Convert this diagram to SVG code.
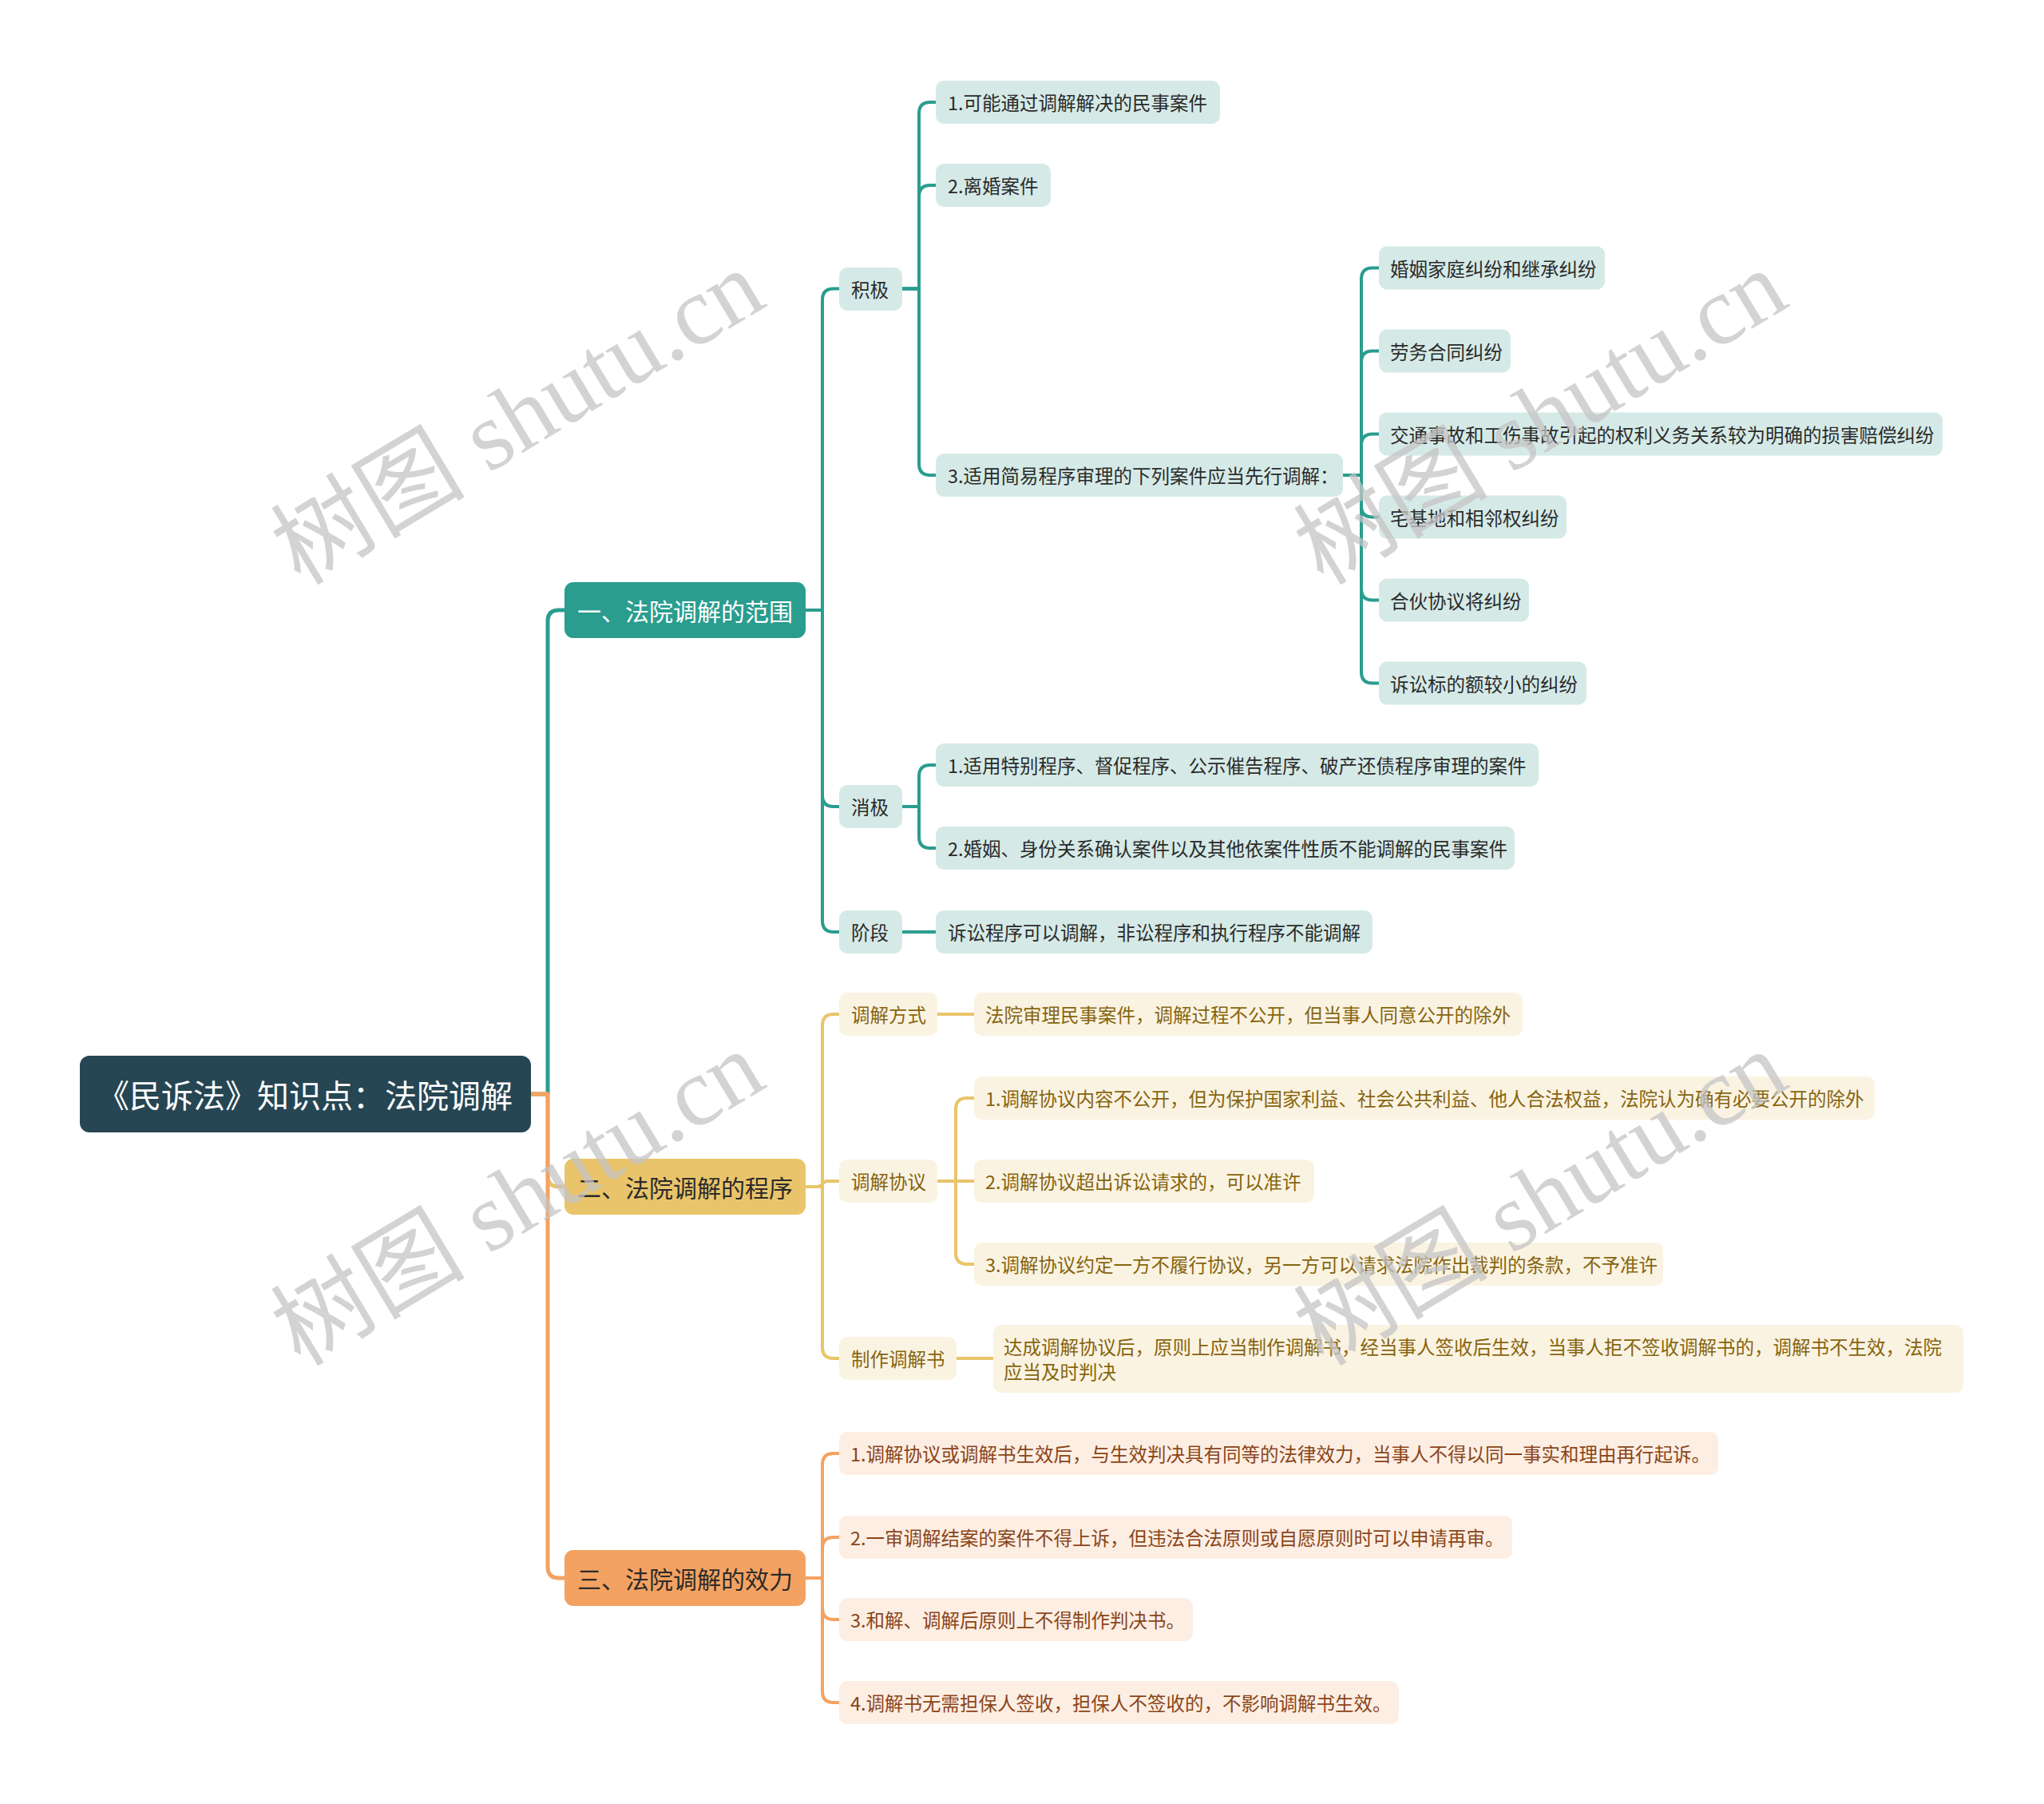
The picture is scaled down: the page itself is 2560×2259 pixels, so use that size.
<svg xmlns="http://www.w3.org/2000/svg" width="2560" height="2259" viewBox="0 0 2560 2259">
<style>
text{font-family:"Noto Sans CJK SC","Noto Sans",sans-serif;dominant-baseline:central}
.c{fill:none;stroke-width:4;stroke-linecap:round;stroke-linejoin:round}
.ct{stroke:#2a9d8f}.cy{stroke:#e9c46a}.co{stroke:#f4a261}
.main{stroke-width:5}
.tb{fill:#d5eae7}.tt{fill:#2b2b2b;font-size:23.5px}
.yb{fill:#fbf3e2}.yt{fill:#86650f;font-size:23.5px}
.ob{fill:#fdeee3}.ot{fill:#8a4519;font-size:23.5px}
.wm{font-family:"Liberation Serif","Noto Sans CJK SC",serif;font-size:122px;fill:#c4c4c4;fill-opacity:0.75;text-anchor:middle;dominant-baseline:auto}
</style>
<rect width="2560" height="2259" fill="#ffffff"/>
<g id="connectors">
<path class="c ct main" d="M665 1370 H686 V778 Q686 764 700 764 H707"/>
<path class="c cy main" d="M665 1370 H686 V1472 Q686 1486 700 1486 H707"/>
<path class="c co main" d="M665 1370 H686 V1962 Q686 1976 700 1976 H707"/>
<path class="c ct" d="M1009 764 H1030 V375.5 Q1030 361.5 1044 361.5 H1051"/>
<path class="c ct" d="M1009 764 H1030 V996 Q1030 1010 1044 1010 H1051"/>
<path class="c ct" d="M1009 764 H1030 V1153 Q1030 1167 1044 1167 H1051"/>
<path class="c ct" d="M1130 361.5 H1151 V142 Q1151 128 1165 128 H1172"/>
<path class="c ct" d="M1130 361.5 H1151 V246 Q1151 232 1165 232 H1172"/>
<path class="c ct" d="M1130 361.5 H1151 V581 Q1151 595 1165 595 H1172"/>
<path class="c ct" d="M1682 595 H1705 V349.5 Q1705 335.5 1719 335.5 H1727"/>
<path class="c ct" d="M1682 595 H1705 V453.5 Q1705 439.5 1719 439.5 H1727"/>
<path class="c ct" d="M1682 595 H1705 V557.5 Q1705 543.5 1719 543.5 H1727"/>
<path class="c ct" d="M1682 595 H1705 V633.5 Q1705 647.5 1719 647.5 H1727"/>
<path class="c ct" d="M1682 595 H1705 V737.5 Q1705 751.5 1719 751.5 H1727"/>
<path class="c ct" d="M1682 595 H1705 V841.5 Q1705 855.5 1719 855.5 H1727"/>
<path class="c ct" d="M1130 1010 H1151 V972 Q1151 958 1165 958 H1172"/>
<path class="c ct" d="M1130 1010 H1151 V1048 Q1151 1062 1165 1062 H1172"/>
<path class="c ct" d="M1130 1167 H1172"/>
<path class="c cy" d="M1009 1486 H1030 V1284 Q1030 1270 1044 1270 H1051"/>
<path class="c cy" d="M1009 1486 H1024 C1030 1486 1030 1479 1036 1479 H1051"/>
<path class="c cy" d="M1009 1486 H1030 V1687 Q1030 1701 1044 1701 H1051"/>
<path class="c cy" d="M1174 1270 H1220"/>
<path class="c cy" d="M1174 1479 H1197 V1389 Q1197 1375 1211 1375 H1220"/>
<path class="c cy" d="M1174 1479 H1220"/>
<path class="c cy" d="M1174 1479 H1197 V1569 Q1197 1583 1211 1583 H1220"/>
<path class="c cy" d="M1198 1701 H1244"/>
<path class="c co" d="M1009 1976 H1030 V1834 Q1030 1820 1044 1820 H1051"/>
<path class="c co" d="M1009 1976 H1030 V1939 Q1030 1925 1044 1925 H1051"/>
<path class="c co" d="M1009 1976 H1030 V2014 Q1030 2028 1044 2028 H1051"/>
<path class="c co" d="M1009 1976 H1030 V2118 Q1030 2132 1044 2132 H1051"/>
</g>
<g id="root"><rect x="100" y="1322" width="565" height="96" rx="12" fill="#264653"/><text x="382" y="1370" font-size="40" fill="#ffffff" text-anchor="middle">《民诉法》知识点：法院调解</text></g>
<g id="b1"><rect x="707" y="729" width="302" height="70" rx="11" fill="#2a9d8f"/><text x="858" y="764" font-size="30" fill="#ffffff" text-anchor="middle">一、法院调解的范围</text></g>
<g id="b2"><rect x="707" y="1451" width="302" height="70" rx="11" fill="#e9c46a"/><text x="858" y="1486" font-size="30" fill="#2b2b2b" text-anchor="middle">二、法院调解的程序</text></g>
<g id="b3"><rect x="707" y="1941" width="302" height="70" rx="11" fill="#f4a261"/><text x="858" y="1976" font-size="30" fill="#2b2b2b" text-anchor="middle">三、法院调解的效力</text></g>

<g id="n-jiji"><rect class="tb" x="1051" y="335" width="79" height="54" rx="10"/><text class="tt" x="1066" y="362">积极</text></g>
<g id="n-xiaoji"><rect class="tb" x="1051" y="983" width="79" height="54" rx="10"/><text class="tt" x="1066" y="1010">消极</text></g>
<g id="n-jieduan"><rect class="tb" x="1051" y="1140" width="79" height="54" rx="10"/><text class="tt" x="1066" y="1167">阶段</text></g>

<g id="n-a1"><rect class="tb" x="1172" y="101" width="356" height="54" rx="10"/><text class="tt" x="1187" y="128">1.可能通过调解解决的民事案件</text></g>
<g id="n-a2"><rect class="tb" x="1172" y="205" width="144" height="54" rx="10"/><text class="tt" x="1187" y="232">2.离婚案件</text></g>
<g id="n-a3"><rect class="tb" x="1172" y="568" width="510" height="54" rx="10"/><text class="tt" x="1187" y="595">3.适用简易程序审理的下列案件应当先行调解：</text></g>

<g id="n-c1"><rect class="tb" x="1727" y="308.5" width="283" height="54" rx="10"/><text class="tt" x="1741" y="335.5">婚姻家庭纠纷和继承纠纷</text></g>
<g id="n-c2"><rect class="tb" x="1727" y="412.5" width="165" height="54" rx="10"/><text class="tt" x="1741" y="439.5">劳务合同纠纷</text></g>
<g id="n-c3"><rect class="tb" x="1727" y="516.5" width="706" height="54" rx="10"/><text class="tt" x="1741" y="543.5">交通事故和工伤事故引起的权利义务关系较为明确的损害赔偿纠纷</text></g>
<g id="n-c4"><rect class="tb" x="1727" y="620.5" width="235" height="54" rx="10"/><text class="tt" x="1741" y="647.5">宅基地和相邻权纠纷</text></g>
<g id="n-c5"><rect class="tb" x="1727" y="724.5" width="188" height="54" rx="10"/><text class="tt" x="1741" y="751.5">合伙协议将纠纷</text></g>
<g id="n-c6"><rect class="tb" x="1727" y="828.5" width="260" height="54" rx="10"/><text class="tt" x="1741" y="855.5">诉讼标的额较小的纠纷</text></g>

<g id="n-x1"><rect class="tb" x="1172" y="931" width="755" height="54" rx="10"/><text class="tt" x="1187" y="958">1.适用特别程序、督促程序、公示催告程序、破产还债程序审理的案件</text></g>
<g id="n-x2"><rect class="tb" x="1172" y="1035" width="725" height="54" rx="10"/><text class="tt" x="1187" y="1062">2.婚姻、身份关系确认案件以及其他依案件性质不能调解的民事案件</text></g>
<g id="n-j1"><rect class="tb" x="1172" y="1140" width="547" height="54" rx="10"/><text class="tt" x="1187" y="1167">诉讼程序可以调解，非讼程序和执行程序不能调解</text></g>

<g id="n-fs"><rect class="yb" x="1051" y="1243" width="123" height="54" rx="10"/><text class="yt" x="1066" y="1270">调解方式</text></g>
<g id="n-xy"><rect class="yb" x="1051" y="1452" width="123" height="54" rx="10"/><text class="yt" x="1066" y="1479">调解协议</text></g>
<g id="n-zz"><rect class="yb" x="1051" y="1674" width="147" height="54" rx="10"/><text class="yt" x="1066" y="1701">制作调解书</text></g>
<g id="n-fs1"><rect class="yb" x="1220" y="1243" width="687" height="54" rx="10"/><text class="yt" x="1234" y="1270">法院审理民事案件，调解过程不公开，但当事人同意公开的除外</text></g>
<g id="n-xy1"><rect class="yb" x="1220" y="1348" width="1128" height="54" rx="10"/><text class="yt" x="1234" y="1375">1.调解协议内容不公开，但为保护国家利益、社会公共利益、他人合法权益，法院认为确有必要公开的除外</text></g>
<g id="n-xy2"><rect class="yb" x="1220" y="1452" width="426" height="54" rx="10"/><text class="yt" x="1234" y="1479">2.调解协议超出诉讼请求的，可以准许</text></g>
<g id="n-xy3"><rect class="yb" x="1220" y="1556" width="863" height="54" rx="10"/><text class="yt" x="1234" y="1583">3.调解协议约定一方不履行协议，另一方可以请求法院作出裁判的条款，不予准许</text></g>
<g id="n-zz1"><rect class="yb" x="1244" y="1659" width="1215" height="85" rx="10"/><text class="yt" x="1257" y="1686">达成调解协议后，原则上应当制作调解书，经当事人签收后生效，当事人拒不签收调解书的，调解书不生效，法院</text><text class="yt" x="1257" y="1717">应当及时判决</text></g>

<g id="n-e1"><rect class="ob" x="1051" y="1793" width="1101" height="54" rx="10"/><text class="ot" x="1065" y="1820">1.调解协议或调解书生效后，与生效判决具有同等的法律效力，当事人不得以同一事实和理由再行起诉。</text></g>
<g id="n-e2"><rect class="ob" x="1051" y="1898" width="843" height="54" rx="10"/><text class="ot" x="1065" y="1925">2.一审调解结案的案件不得上诉，但违法合法原则或自愿原则时可以申请再审。</text></g>
<g id="n-e3"><rect class="ob" x="1051" y="2001" width="443" height="54" rx="10"/><text class="ot" x="1065" y="2028">3.和解、调解后原则上不得制作判决书。</text></g>
<g id="n-e4"><rect class="ob" x="1051" y="2105" width="701" height="54" rx="10"/><text class="ot" x="1065" y="2132">4.调解书无需担保人签收，担保人不签收的，不影响调解书生效。</text></g>

<g id="watermarks">
<text class="wm" transform="translate(648 522) rotate(-31)" x="0" y="42">树图 shutu.cn</text>
<text class="wm" transform="translate(1929 522) rotate(-31)" x="0" y="42">树图 shutu.cn</text>
<text class="wm" transform="translate(648 1500) rotate(-31)" x="0" y="42">树图 shutu.cn</text>
<text class="wm" transform="translate(1929 1500) rotate(-31)" x="0" y="42">树图 shutu.cn</text>
</g>
</svg>
